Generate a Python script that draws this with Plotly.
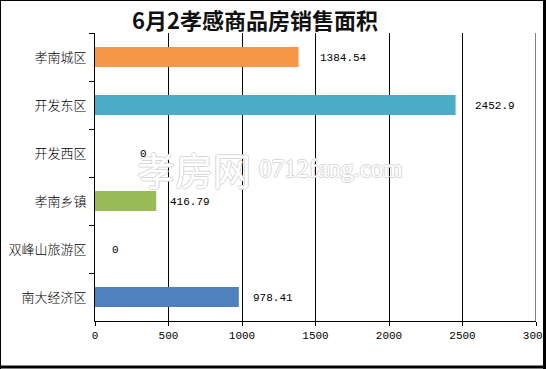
import plotly.graph_objects as go

# ---- data ----
categories = ["孝南城区", "开发东区", "开发西区", "孝南乡镇", "双峰山旅游区", "南大经济区"]
values = [1384.54, 2452.9, 0, 416.79, 0, 978.41]
value_labels = ["1384.54", "2452.9", "0", "416.79", "0", "978.41"]
x_ticks = [0, 500, 1000, 1500, 2000, 2500, 3000]
x_tick_labels = ["0", "500", "1000", "1500", "2000", "2500", "3000"]
x_max = 3000
title_text = "6月2孝感商品房销售面积"
watermark_cn = "孝房网"
watermark_en = "0712fang.com"

# ---- styles ----
bar_colors = ["#F79646", "#4BACC6", "#FFFFFF", "#9BBB59", "#FFFFFF", "#4F81BD"]
label_xshift = [19, 17, 43, 12, 15, 12]

W, H = 546, 369
L, R, T, B = 95, 10, 33, 48
pw, ph = W - L - R, H - T - B


def px(x):
    return (x - L) / pw


def py(y):
    return (H - B - y) / ph


fig = go.Figure()
fig.add_trace(go.Bar(
    y=categories, x=values, orientation="h",
    marker=dict(color=bar_colors, line=dict(width=0)),
    hoverinfo="skip",
))

annotations = []
outline = "1px 0 #d8d8d8, -1px 0 #d8d8d8, 0 1px #d8d8d8, 0 -1px #d8d8d8"
annotations.append(dict(
    x=px(194), y=py(168), xref="paper", yref="paper", text=watermark_cn,
    showarrow=False, xanchor="center", yanchor="middle",
    font=dict(family="Noto Sans CJK SC", size=38, color="#ffffff", shadow=outline),
))
annotations.append(dict(
    x=px(257), y=py(168), xref="paper", yref="paper", text=watermark_en,
    showarrow=False, xanchor="left", yanchor="middle",
    font=dict(family="Liberation Serif", size=25, color="#ffffff", shadow=outline),
))
for cat, v, lab, dx in zip(categories, values, value_labels, label_xshift):
    annotations.append(dict(
        x=v, y=cat, xref="x", yref="y", text=lab, showarrow=False,
        xanchor="left", yanchor="middle", xshift=dx, yshift=-1,
        font=dict(family="Liberation Mono, DejaVu Sans Mono, monospace", size=11, color="#000"),
    ))

shapes = [
    # gridline at the right end of the value axis
    dict(type="line", xref="x", yref="paper", x0=x_max, x1=x_max, y0=0, y1=1,
         line=dict(color="#000", width=1), layer="below"),
    # outer frame
    dict(type="line", xref="paper", yref="paper", x0=px(0), x1=px(546), y0=py(0.5), y1=py(0.5),
         line=dict(color="#000", width=1)),
    dict(type="line", xref="paper", yref="paper", x0=px(0.5), x1=px(0.5), y0=py(0), y1=py(369),
         line=dict(color="#000", width=1)),
    dict(type="line", xref="paper", yref="paper", x0=px(544.5), x1=px(544.5), y0=py(0), y1=py(369),
         line=dict(color="#000", width=3)),
    dict(type="line", xref="paper", yref="paper", x0=px(0), x1=px(546), y0=py(367), y1=py(367),
         line=dict(color="#000", width=3)),
]

fig.update_layout(
    width=W, height=H,
    margin=dict(l=L, r=R, t=T, b=B, autoexpand=False),
    paper_bgcolor="#ffffff", plot_bgcolor="#ffffff",
    showlegend=False,
    bargap=0.58,
    title=dict(
        text=title_text, x=255 / W, xref="container", xanchor="center",
        y=1 - 21 / H, yref="container", yanchor="middle",
        font=dict(family="Noto Sans CJK SC", size=22, color="#111111", weight="bold"),
    ),
    xaxis=dict(
        range=[0, x_max], tickvals=x_ticks, ticktext=x_tick_labels,
        showgrid=True, gridcolor="#000", gridwidth=1,
        zeroline=False, showline=True, linecolor="#000", linewidth=1,
        ticks="outside", ticklen=4, tickcolor="#000",
        ticklabeloverflow="allow",
        tickfont=dict(family="Liberation Mono, DejaVu Sans Mono, monospace", size=11, color="#000"),
        fixedrange=True,
    ),
    yaxis=dict(
        categoryorder="array", categoryarray=categories, autorange="reversed",
        showgrid=False, zeroline=False, showline=True, linecolor="#000", linewidth=1,
        ticks="outside", ticklen=5, tickcolor="#000", tickson="boundaries",
        ticklabelstandoff=5,
        tickfont=dict(family="Noto Sans CJK SC", size=13, color="#000", weight=300),
        fixedrange=True,
    ),
    annotations=annotations,
    shapes=shapes,
)

fig.write_html(
    "out.html",
    config={"displayModeBar": False},
    post_script="document.body.style.margin='0px';document.body.style.overflow='hidden';",
)
